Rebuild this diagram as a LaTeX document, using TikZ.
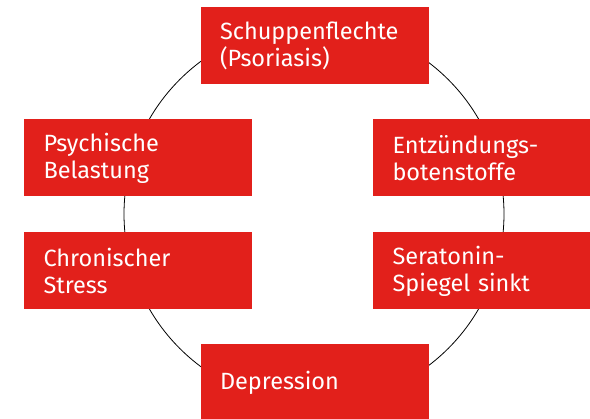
\documentclass[tikz,border=0pt]{standalone}
\usepackage{fontspec}
\setmainfont{Fira Sans}
\usepackage{tikz}
\usetikzlibrary{shapes,calc,positioning}
\definecolor{psored}{RGB}{226,32,27}
\tikzset{
    x=1pt, y=-1pt,
    ring/.style ={circle, draw=black, line width=0.8pt, minimum size=380pt, inner sep=0pt},
    box/.style = {rectangle, fill=psored, text=white, text width=189pt, align=left,
        inner xsep=19.5pt, inner ysep=0pt, minimum width=228pt, minimum height=77pt,
        font=\fontsize{23.5}{27}\selectfont}
}
\begin{document}
\begin{tikzpicture}
    \useasboundingbox (0,0) rectangle (590,419);

    %%Cycle
    \node[ring] (loop) at (314,214) {};

    %%Nodes
    \node[box] (psoriasis) at (314.5,45.5) {Schuppenflechte\\(Psoriasis)};
    \node[box] (entz) at (487,158) {Entzündungs-\\botenstoffe};
    \node[box] (sera) at (487,271) {Seratonin-\\Spiegel sinkt};
    \node[box] (depr) at (314.5,382.5) {Depression};
    \node[box] (stress) at (138,271) {Chronischer\\Stress};
    \node[box] (psych) at (138,158) {Psychische\\Belastung};

\end{tikzpicture}
\end{document}
